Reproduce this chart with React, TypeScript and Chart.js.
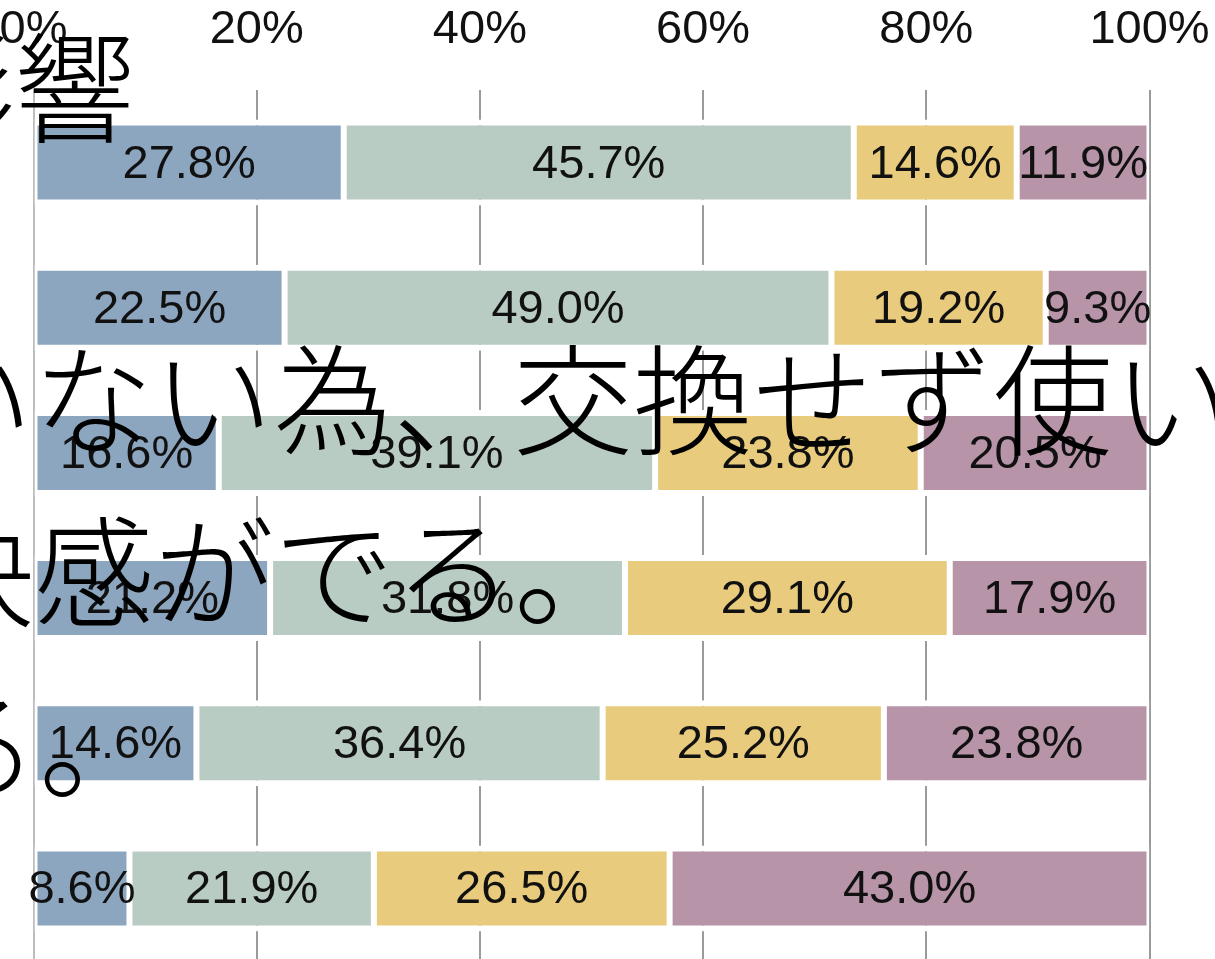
import React, { useEffect, useRef } from 'react';
import { Chart, registerables } from 'chart.js';

Chart.register(...registerables);

// ---- data ----
const categories = ['項目1', '項目2', '項目3', '項目4', '項目5', '項目6'];
const seriesNames = ['そう思う', 'ややそう思う', 'あまりそう思わない', 'そう思わない'];
const series1 = [27.8, 22.5, 16.6, 21.2, 14.6, 8.6];
const series2 = [45.7, 49.0, 39.1, 31.8, 36.4, 21.9];
const series3 = [14.6, 19.2, 23.8, 29.1, 25.2, 26.5];
const series4 = [11.9, 9.3, 20.5, 17.9, 23.8, 43.0];
const seriesColors = ['#8da6c0', '#b9ccc3', '#e8cb7d', '#b894a8'];
const tickStep = 20;
const overlayLines = ['影響', 'いない為、交換せず使い', '快感がでる。', 'る。'];

// canvas offset relative to the visible page (the picture is a crop)
const OFF_X = 12;
const OFF_Y = 29;
const CANVAS_W = 1215 + OFF_X;
const CANVAS_H = 959 + OFF_Y + 2;

const overlayPos = [
  { x: -105, y: 134 },
  { x: -87, y: 446 },
  { x: -86, y: 618 },
  { x: -81, y: 791 },
];

const valueLabelPlugin = {
  id: 'valueLabels',
  afterDatasetsDraw(chart: any) {
    const ctx = chart.ctx;
    ctx.save();
    ctx.font = '47px "Liberation Sans", Arial, sans-serif';
    ctx.fillStyle = '#111';
    ctx.textAlign = 'center';
    ctx.textBaseline = 'middle';
    chart.data.datasets.forEach((ds: any, di: number) => {
      const meta = chart.getDatasetMeta(di);
      meta.data.forEach((bar: any, i: number) => {
        const v = ds.data[i];
        const c = bar.getCenterPoint();
        ctx.fillText(v.toFixed(1) + '%', c.x, c.y + 2);
      });
    });
    ctx.restore();
  },
};

const overlayTextPlugin = {
  id: 'overlayText',
  afterDraw(chart: any) {
    const ctx = chart.ctx;
    ctx.save();
    ctx.font = '300 120px "Noto Sans CJK JP", sans-serif';
    ctx.fillStyle = '#000';
    ctx.textAlign = 'left';
    ctx.textBaseline = 'alphabetic';
    overlayLines.forEach((line, i) => {
      const p = overlayPos[i];
      ctx.fillText(line, p.x + OFF_X, p.y + OFF_Y);
    });
    ctx.restore();
  },
};

export default function App() {
  const ref = useRef<HTMLCanvasElement | null>(null);

  useEffect(() => {
    if (!ref.current) return;
    const seriesData = [series1, series2, series3, series4];
    const chart = new Chart(ref.current, {
      type: 'bar',
      data: {
        labels: categories,
        datasets: seriesData.map((d, i) => ({
          label: seriesNames[i],
          data: d,
          backgroundColor: seriesColors[i],
          borderColor: '#ffffff',
          borderWidth: { top: 6, bottom: 6, left: 3, right: 3 },
          borderSkipped: false,
          barPercentage: 0.592,
          categoryPercentage: 1,
        })),
      },
      options: {
        indexAxis: 'y',
        responsive: false,
        animation: false,
        devicePixelRatio: 1,
        layout: { padding: { left: 33.5 + OFF_X, right: 65.5, top: 0, bottom: 0 } },
        plugins: {
          legend: { display: false },
          tooltip: { enabled: false },
          title: { display: false },
        },
        scales: {
          x: {
            position: 'top',
            stacked: true,
            min: 0,
            max: 100,
            ticks: {
              stepSize: tickStep,
              callback: (v: any) => v + '%',
              font: { size: 47, family: '"Liberation Sans", Arial, sans-serif', lineHeight: 2.532 },
              color: '#111',
              padding: 0,
              maxRotation: 0,
              autoSkip: false,
            },
            grid: { color: '#9a9a9a', lineWidth: 2, drawTicks: false },
            border: { display: false },
          },
          y: {
            stacked: true,
            z: 1,
            ticks: { display: false },
            grid: { display: false, drawTicks: false },
            border: { display: true, color: '#bdbdbd', width: 2 },
          },
        },
      } as any,
      plugins: [valueLabelPlugin, overlayTextPlugin],
    });
    return () => chart.destroy();
  }, []);

  return (
    <div
      style={{
        position: 'fixed',
        left: 0,
        top: 0,
        width: 1215,
        height: 959,
        overflow: 'hidden',
        background: '#fff',
      }}
    >
      <canvas
        ref={ref}
        width={CANVAS_W}
        height={CANVAS_H}
        style={{
          position: 'absolute',
          left: -OFF_X,
          top: -OFF_Y,
          width: CANVAS_W,
          height: CANVAS_H,
        }}
      />
    </div>
  );
}
